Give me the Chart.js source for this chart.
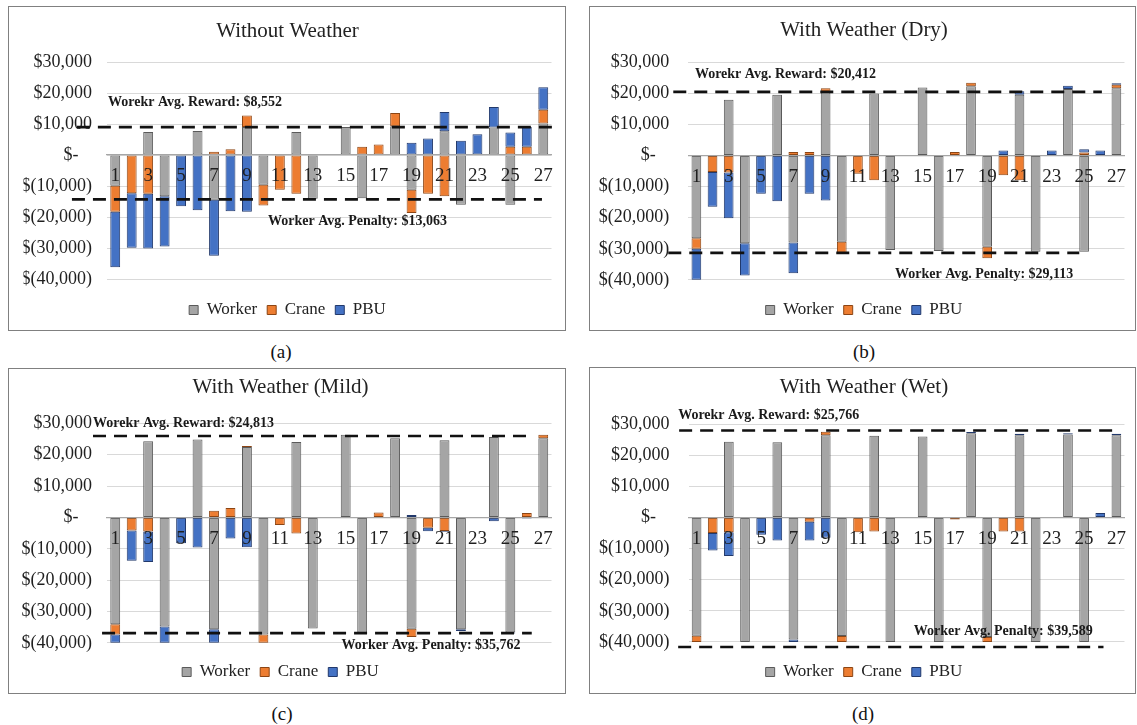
<!DOCTYPE html>
<html>
<head>
<meta charset="utf-8">
<script src="https://cdn.jsdelivr.net/npm/chart.js@4.4.1/dist/chart.umd.min.js"></script>
<style>
  body { margin: 0; background: #fff; width: 1137px; height: 725px; position: relative; overflow: hidden; font-family: "Liberation Serif", "Times New Roman", serif; }
  .frame { position: absolute; border: 1.5px solid #808080; box-sizing: border-box; pointer-events: none; }
  .cap { position: absolute; font-size: 19px; color: #111; transform: translate(-50%, -50%); }
</style>
</head>
<body>
<script>
const categories = ['1', '2', '3', '4', '5', '6', '7', '8', '9', '10', '11', '12', '13', '14',
  '15', '16', '17', '18', '19', '20', '21', '22', '23', '24', '25', '26', '27'];
const yTicks = [-40000, -30000, -20000, -10000, 0, 10000, 20000, 30000];

// (a) Without Weather
const workerA = [-9900, 0, 7450, -13300, 0, 7780, -14400, 0, 9050, -9600, 0, 7450, -14100, 0,
  9050, -13900, 0, 9270, -11200, 0, 7680, -16000, 0, 8850, -16000, 0, 10130];
const craneA = [-8400, -12300, -12500, 0, 0, 0, 1060, 1900, 3730, -6700, -11200, -12500, 0, 0,
  0, 2650, 3400, 4260, -7460, -12500, -13300, 0, 0, 0, 2650, 2650, 4480];
const pbuA = [-17900, -17600, -17600, -16200, -16500, -17800, -18100, -18100, -18300, 0, 0, 0, 0, 0,
  0, 0, 0, 0, 3950, 5300, 6180, 4580, 6700, 6600, 4580, 6400, 7250];

// (b) With Weather (Dry)
const workerB = [-26600, 0, 17900, -28200, 0, 19500, -28000, 0, 20200, -27700, 0, 19900, -30400, 0,
  21800, -30700, 0, 22200, -29300, 0, 19500, -30900, 0, 21300, -30900, 0, 21600];
const craneB = [-3400, -5300, -5500, 0, 0, 0, 1100, 1100, 1400, -3700, -5900, -8000, 0, 0,
  0, 0, 1100, 1100, -3700, -6400, -8000, 0, 0, 0, 900, 0, 1100];
const pbuB = [-9900, -11200, -14700, -10400, -12300, -14700, -9800, -12300, -14500, 0, 0, 0, 0, 0,
  0, 0, 0, 0, 0, 1600, 1100, 0, 1600, 1100, 1100, 1600, 500];

// (c) With Weather (Mild)
const workerC = [-34100, 0, 24300, -34800, 0, 24900, -35700, 0, 22500, -37300, 0, 24100, -35400, 0,
  26400, -36700, 0, 25300, -35500, 0, 24600, -35700, -200, 25700, -36700, 0, 25300];
const craneC = [-3200, -4200, -4500, 0, 0, 0, 2100, 3000, 300, -2700, -2400, -5100, 0, 0,
  0, 0, 1600, 0, -2600, -3300, -4300, 0, 0, 0, 0, 1400, 1100];
const pbuC = [-2700, -9600, -9700, -5200, -8200, -9600, -4300, -6700, -9500, 0, 0, 0, 0, 0,
  0, 0, 0, 0, 800, -1100, -300, -500, 0, -1200, -300, -300, 0];

// (d) With Weather (Wet)
const workerD = [-38000, 0, 24300, -40000, 0, 24100, -39200, 0, 26400, -38100, 0, 26200, -40000, 0,
  26000, -40000, 0, 27000, -38400, 0, 26400, -40000, 0, 26600, -40000, 0, 26400];
const craneD = [-2000, -5000, -4800, 0, 0, 0, 0, -1400, 1100, -1900, -4800, -4500, 0, 0,
  0, 0, -700, 0, -1600, -4500, -4500, 0, 0, 0, 0, 0, 0];
const pbuD = [0, -5600, -7600, 0, -5600, -7400, -800, -6000, -6500, 0, 0, 0, 0, 0,
  0, 0, 0, 400, 0, 0, 500, 0, 0, 400, 0, 1400, 500];

const rewardAvg = [8552, 20412, 24813, 25766];
const penaltyAvg = [13063, 29113, 35762, 39589];
// where the dashed lines sit on the value axis
const rewardLine = [9000, 20400, 26000, 27900];
const penaltyLine = [-14300, -31300, -36900, -41600];

const titles = ['Without Weather', 'With Weather (Dry)', 'With Weather (Mild)', 'With Weather (Wet)'];
const captions = ['(a)', '(b)', '(c)', '(d)'];
const series = [[workerA, craneA, pbuA], [workerB, craneB, pbuB], [workerC, craneC, pbuC], [workerD, craneD, pbuD]];

// panel geometry (px) and where the dashed lines / notes start and end (category units)
const layouts = [
  { box: [8, 6, 558, 325], pad: [15.5, 14.5, 2.5], yW: 83.5, yPad: 15, tPad: [13, 17.8], yMin: -44000,
    reward: { from: -2.33, to: 26.53, tx: -0.44, ty: 17000 },
    penalty: { from: -2.63, to: 25.92, tx: 9.28, ty: -21500 }, cap: [281, 352] },
  { box: [589, 6, 547, 325], pad: [8, 5, 2.5], yW: 91.3, yPad: 19, tPad: [11.4, 19.4], yMin: -43700,
    reward: { from: -1.43, to: 25.1, tx: -0.09, ty: 26000 },
    penalty: { from: -1.74, to: 23.7, tx: 12.3, ty: -38200 }, cap: [864, 352] },
  { box: [8, 368, 558, 326], pad: [1.5, 14.5, 3.5], yW: 97.5, yPad: 15, tPad: [6.4, 23.8], yMin: -43400,
    reward: { from: -1.35, to: 25.07, tx: -1.35, ty: 29900 },
    penalty: { from: -0.8, to: 25.3, tx: 13.75, ty: -40900 }, cap: [282, 714] },
  { box: [589, 367, 547, 327], pad: [8, 5, 3.5], yW: 91.5, yPad: 19, tPad: [7.4, 24.4], yMin: -43700,
    reward: { from: -1.08, to: 26.0, tx: -1.14, ty: 32800 },
    penalty: { from: -1.14, to: 25.2, tx: 13.45, ty: -36500 }, cap: [863, 714] }
];

Chart.defaults.font.family = '"Liberation Serif", "Times New Roman", serif';
Chart.defaults.color = '#1f1f1f';

function money(v) {
  if (v === 0) return '$-\u00a0\u00a0\u00a0';
  const s = Math.abs(v).toLocaleString('en-US');
  return v < 0 ? `$(${s})` : `$${s}`;
}

// dashed average lines with their bold notes
const avgLines = {
  id: 'avgLines',
  afterDraw(chart, args, opts) {
    const { ctx } = chart;
    const x = chart.scales.x, y = chart.scales.y;
    ctx.save();
    opts.lines.forEach(l => {
      const yy = y.getPixelForValue(l.value);
      ctx.setLineDash([13, 8]);
      ctx.lineWidth = 2.6;
      ctx.strokeStyle = '#111';
      ctx.beginPath();
      ctx.moveTo(x.getPixelForValue(l.from), yy);
      ctx.lineTo(x.getPixelForValue(l.to), yy);
      ctx.stroke();
      ctx.setLineDash([]);
      ctx.font = 'bold 14px "Liberation Serif"';
      ctx.fillStyle = '#1a1a1a';
      ctx.textAlign = 'left';
      ctx.textBaseline = 'middle';
      ctx.fillText(l.text, x.getPixelForValue(l.tx), y.getPixelForValue(l.ty));
    });
    ctx.restore();
  }
};

layouts.forEach((L, i) => {
  const [left, top, w, h] = L.box;
  const canvas = document.createElement('canvas');
  canvas.width = w;
  canvas.height = h;
  canvas.style.cssText = `position:absolute;left:${left}px;top:${top}px;width:${w}px;height:${h}px`;
  document.body.appendChild(canvas);

  const frame = document.createElement('div');
  frame.className = 'frame';
  frame.style.cssText = `left:${left}px;top:${top}px;width:${w}px;height:${h}px`;
  document.body.appendChild(frame);

  const cap = document.createElement('div');
  cap.className = 'cap';
  cap.style.left = L.cap[0] + 'px';
  cap.style.top = L.cap[1] + 'px';
  cap.textContent = captions[i];
  document.body.appendChild(cap);

  const [worker, crane, pbu] = series[i];
  const bar = { borderWidth: 1, borderSkipped: false, barPercentage: 0.6, categoryPercentage: 1 };

  new Chart(canvas.getContext('2d'), {
    type: 'bar',
    data: {
      labels: categories,
      datasets: [
        { label: 'Worker', data: worker, backgroundColor: '#A5A5A5', borderColor: '#5a5a5a', ...bar },
        { label: 'Crane', data: crane, backgroundColor: '#ED7D31', borderColor: '#8c4514', ...bar },
        { label: 'PBU', data: pbu, backgroundColor: '#4472C4', borderColor: '#22396b', ...bar }
      ]
    },
    options: {
      responsive: false,
      animation: false,
      devicePixelRatio: 1,
      layout: { padding: { left: L.pad[0], right: L.pad[1], top: 0, bottom: L.pad[2] } },
      scales: {
        x: {
          type: 'category', axis: 'x', stacked: true, position: { y: 0 }, offset: true,
          grid: { color: 'transparent', drawTicks: false },
          border: { color: '#a6a6a6', width: 1.2, z: 1 },
          // labels sit on top of the bars, as in the original
          ticks: {
            z: 1, autoSkip: false, maxRotation: 0, minRotation: 0, padding: 10, font: { size: 19 },
            callback: (v, k) => (k % 2 === 0 ? categories[k] : '')
          }
        },
        y: {
          stacked: true, min: L.yMin, max: 30000, bounds: 'data',
          afterBuildTicks: s => { s.ticks = yTicks.map(v => ({ value: v })); },
          afterFit: s => { s.width = L.yW; },
          grid: { color: '#d9d9d9', drawTicks: false },
          border: { display: false },
          ticks: { padding: L.yPad, font: { size: 18 }, callback: v => money(v) }
        }
      },
      plugins: {
        title: {
          display: true, text: titles[i], color: '#222',
          font: { size: 21, weight: 'normal' },
          padding: { top: L.tPad[0], bottom: L.tPad[1] }
        },
        legend: {
          position: 'bottom',
          labels: { boxWidth: 9, boxHeight: 9, padding: 10, color: '#222', font: { size: 17 } }
        },
        tooltip: { enabled: false },
        avgLines: {
          lines: [
            { value: rewardLine[i], from: L.reward.from, to: L.reward.to, tx: L.reward.tx, ty: L.reward.ty,
              text: `Worekr Avg. Reward: $${rewardAvg[i].toLocaleString('en-US')}` },
            { value: penaltyLine[i], from: L.penalty.from, to: L.penalty.to, tx: L.penalty.tx, ty: L.penalty.ty,
              text: `Worker Avg. Penalty: $${penaltyAvg[i].toLocaleString('en-US')}` }
          ]
        }
      }
    },
    plugins: [avgLines]
  });
});
</script>
</body>
</html>
